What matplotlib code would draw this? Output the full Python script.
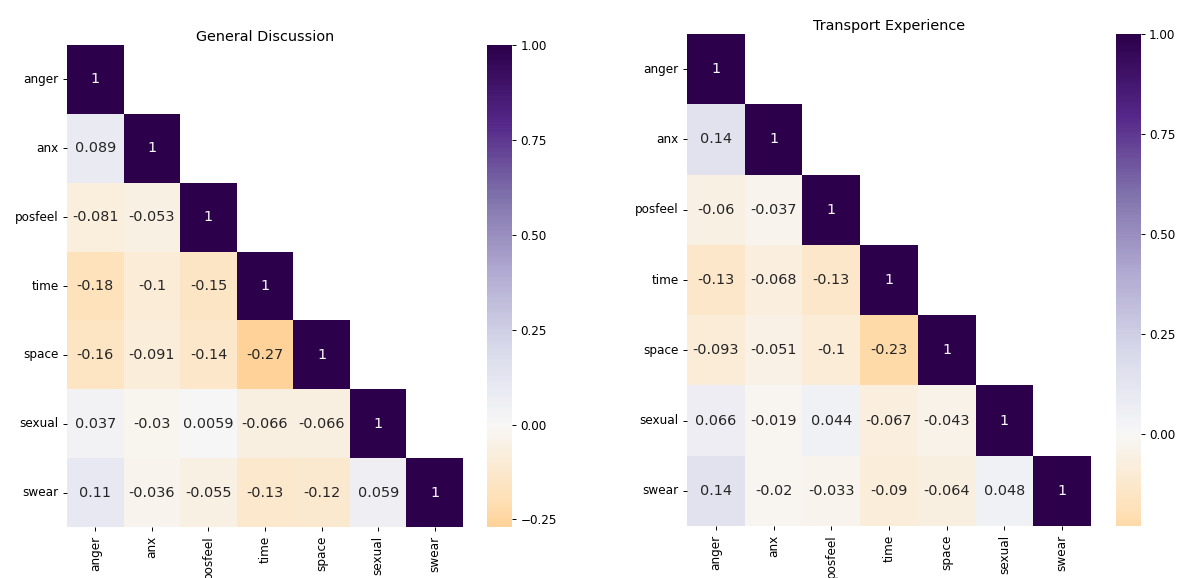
import numpy as np
import pandas as pd
import matplotlib
matplotlib.use("Agg")
import matplotlib.pyplot as plt
from matplotlib import ticker
import seaborn as sns

labels = ["anger", "anx", "posfeel", "time", "space", "sexual", "swear"]

# lower triangle of each correlation matrix, row by row
general = [
    [1],
    [0.089, 1],
    [-0.081, -0.053, 1],
    [-0.18, -0.1, -0.15, 1],
    [-0.16, -0.091, -0.14, -0.27, 1],
    [0.037, -0.03, 0.0059, -0.066, -0.066, 1],
    [0.11, -0.036, -0.055, -0.13, -0.12, 0.059, 1],
]
transport = [
    [1],
    [0.14, 1],
    [-0.06, -0.037, 1],
    [-0.13, -0.068, -0.13, 1],
    [-0.093, -0.051, -0.1, -0.23, 1],
    [0.066, -0.019, 0.044, -0.067, -0.043, 1],
    [0.14, -0.02, -0.033, -0.09, -0.064, 0.048, 1],
]
titles = ["General Discussion", "Transport Experience"]


def full_matrix(rows):
    n = len(rows)
    m = np.zeros((n, n))
    for i, r in enumerate(rows):
        m[i, : len(r)] = r
    m = m + np.tril(m, -1).T
    return pd.DataFrame(m, index=labels, columns=labels)


DPI = 86.4
W, H = 1180, 578
fig = plt.figure(figsize=(W / DPI, H / DPI), dpi=DPI)


def px_axes(x0, y0, x1, y1):
    # pixel box (top-left origin) -> figure fraction
    return fig.add_axes([x0 / W, 1 - y1 / H, (x1 - x0) / W, (y1 - y0) / H])


boxes = [
    ((67, 45, 463, 527), (487.3, 45, 512, 527)),
    ((687, 34, 1091, 526), (1116, 34, 1140.7, 526)),
]

for rows, title, (hbox, cbox) in zip([general, transport], titles, boxes):
    df = full_matrix(rows)
    mask = np.triu(np.ones(df.shape, dtype=bool), k=1)
    ax = px_axes(*hbox)
    cax = px_axes(*cbox)
    sns.heatmap(
        df,
        mask=mask,
        cmap="PuOr",
        center=0,
        annot=True,
        fmt=".2g",
        annot_kws={"size": 12},
        ax=ax,
        cbar_ax=cax,
    )
    cax.yaxis.set_major_locator(ticker.MultipleLocator(0.25))
    ax.set_title(title, pad=3.6)
    ax.set_yticklabels(labels, rotation=0)
    ax.set_xticklabels(labels, rotation=90)

fig.savefig("out.png", dpi=DPI)
plt.close()
